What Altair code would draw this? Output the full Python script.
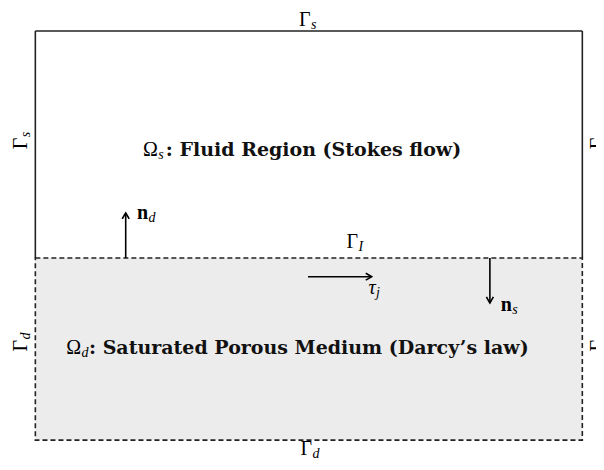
import altair as alt
import pandas as pd
import numpy as np

# ---- Geometry of the coupled domain (diagram units) ----
box_x = [0.0, 10.0]
stokes_top = 4.15
interface_y = 0.0
darcy_bottom = -3.33

# ---- Boundary labels Γ (horizontal) ----
gamma_h_sub = ["s", "I", "d"]
gamma_h_x = [5.03, 5.90, 5.06]
gamma_h_y = [4.25, 0.174, -3.61]

# ---- Boundary labels Γ (rotated, left/right sides) ----
gamma_v_sub = ["s", "d", "s", "d"]
gamma_v_x = [-0.16, -0.16, 10.40, 10.40]
gamma_v_y = [2.2, -1.5, 2.2, -1.5]

# ---- Region labels ----
region_sym = ["Ω", "Ω"]
region_sub = ["s", "d"]
region_text = [": Fluid Region (Stokes flow)", ": Saturated Porous Medium (Darcy’s law)"]
region_x = [2.24, 0.835]
region_y = [1.865, -1.755]

# ---- Vectors (arrows) ----
arrow_x0 = [1.652, 4.985, 8.31]
arrow_y0 = [0.0, -0.342, 0.0]
arrow_x1 = [1.652, 6.15, 8.31]
arrow_y1 = [0.823, -0.342, -0.823]

# normal vector labels (bold n) and tangent label (italic tau)
normal_sub = ["d", "s"]
normal_x = [2.06, 8.71]
normal_y = [0.713, -0.97]
tangent_sub = ["j"]
tangent_x = [6.22]
tangent_y = [-0.66]

SERIF = "Liberation Serif"
BOLD_SERIF = "DejaVu Serif"
INK = "#222222"

xs = alt.Scale(domain=[-0.5, 10.25], nice=False, zero=False)
ys = alt.Scale(domain=[-3.73, 4.57], nice=False, zero=False)


def X(f="x"):
    return alt.X(f"{f}:Q", scale=xs, axis=None)


def Y(f="y"):
    return alt.Y(f"{f}:Q", scale=ys, axis=None)


# Darcy region (filled, dashed border)
darcy = pd.DataFrame({"x": [box_x[0]], "x2": [box_x[1]], "y": [darcy_bottom], "y2": [interface_y]})
darcy_rect = alt.Chart(darcy).mark_rect(
    fill="#ececec", stroke=INK, strokeWidth=1.6, strokeDash=[5, 3]
).encode(x=X(), x2="x2:Q", y=Y(), y2="y2:Q")

# Stokes region: solid left, top, right edges
stokes_edges = pd.DataFrame({
    "x": [box_x[0], box_x[0], box_x[1]],
    "x2": [box_x[0], box_x[1], box_x[1]],
    "y": [interface_y, stokes_top, stokes_top],
    "y2": [stokes_top, stokes_top, interface_y],
})
stokes_rules = alt.Chart(stokes_edges).mark_rule(color=INK, strokeWidth=1.6).encode(
    x=X(), x2="x2:Q", y=Y(), y2="y2:Q"
)

# Arrows
arr = pd.DataFrame({"x": arrow_x0, "y": arrow_y0, "x2": arrow_x1, "y2": arrow_y1})
arr["angle"] = (90 - np.degrees(np.arctan2(arr["y2"] - arr["y"], arr["x2"] - arr["x"]))) % 360
shafts = alt.Chart(arr).mark_rule(color="black", strokeWidth=1.6).encode(
    x=X(), x2="x2:Q", y=Y(), y2="y2:Q"
)
heads = alt.Chart(arr).mark_point(
    shape="M-0.55,0.95 Q-0.2,0.3 0,0 Q0.2,0.3 0.55,0.95",
    filled=False, stroke="black", strokeWidth=1.6, size=160, opacity=1
).encode(x=X("x2"), y=Y("y2"), angle=alt.Angle("angle:Q", scale=None))

# Γ labels horizontal
gh = pd.DataFrame({"x": gamma_h_x, "y": gamma_h_y, "sym": ["Γ"] * 3, "sub": gamma_h_sub})
gh_sym = alt.Chart(gh).mark_text(align="right", baseline="alphabetic", font=SERIF, fontSize=20, color="black").encode(
    x=X(), y=Y(), text="sym:N")
gh_sub = alt.Chart(gh).mark_text(align="left", baseline="alphabetic", font=SERIF, fontSize=14, fontStyle="italic",
                                 dx=0.5, dy=3, color="black").encode(x=X(), y=Y(), text="sub:N")

# Γ labels rotated
gv = pd.DataFrame({"x": gamma_v_x, "y": gamma_v_y, "sym": ["Γ"] * 4, "sub": gamma_v_sub})
gv_sym = alt.Chart(gv).mark_text(align="right", baseline="alphabetic", font=SERIF, fontSize=20, angle=270,
                                 color="black").encode(x=X(), y=Y(), text="sym:N")
gv_sub = alt.Chart(gv).mark_text(align="left", baseline="alphabetic", font=SERIF, fontSize=14, fontStyle="italic",
                                 angle=270, dx=0.5, dy=3, color="black").encode(x=X(), y=Y(), text="sub:N")

# Region labels
rg = pd.DataFrame({"x": region_x, "y": region_y, "sym": region_sym, "sub": region_sub, "rest": region_text})
rg_sym = alt.Chart(rg).mark_text(align="right", baseline="alphabetic", font=SERIF, fontSize=20, color="black").encode(
    x=X(), y=Y(), text="sym:N")
rg_sub = alt.Chart(rg).mark_text(align="left", baseline="alphabetic", font=SERIF, fontSize=14, fontStyle="italic",
                                 dx=0.5, dy=3, color="black").encode(x=X(), y=Y(), text="sub:N")
rg_rest = alt.Chart(rg).mark_text(align="left", baseline="alphabetic", font=BOLD_SERIF, fontSize=19,
                                  fontWeight="bold", dx=8, color="#111111").encode(x=X(), y=Y(), text="rest:N")

# Normal vector labels
nm = pd.DataFrame({"x": normal_x, "y": normal_y, "sym": ["n"] * 2, "sub": normal_sub})
nm_sym = alt.Chart(nm).mark_text(align="right", baseline="alphabetic", font=SERIF, fontSize=20, fontWeight="bold",
                                 color="black").encode(x=X(), y=Y(), text="sym:N")
nm_sub = alt.Chart(nm).mark_text(align="left", baseline="alphabetic", font=SERIF, fontSize=14, fontStyle="italic",
                                 dx=0.5, dy=3, color="black").encode(x=X(), y=Y(), text="sub:N")

# Tangent label
tg = pd.DataFrame({"x": tangent_x, "y": tangent_y, "sym": ["τ"], "sub": tangent_sub})
tg_sym = alt.Chart(tg).mark_text(align="right", baseline="alphabetic", font=SERIF, fontSize=20, fontStyle="italic",
                                 color="black").encode(x=X(), y=Y(), text="sym:N")
tg_sub = alt.Chart(tg).mark_text(align="left", baseline="alphabetic", font=SERIF, fontSize=14, fontStyle="italic",
                                 dx=0.5, dy=3, color="black").encode(x=X(), y=Y(), text="sub:N")

chart = alt.layer(
    darcy_rect, stokes_rules, shafts, heads,
    gh_sym, gh_sub, gv_sym, gv_sub,
    rg_sym, rg_sub, rg_rest,
    nm_sym, nm_sub, tg_sym, tg_sub,
).properties(
    width=588, height=454, padding=0,
    autosize=alt.AutoSizeParams(type="none"),
    background="white",
).configure_view(stroke=None)

chart.save("out.html", embed_options={"renderer": "svg", "actions": False})
